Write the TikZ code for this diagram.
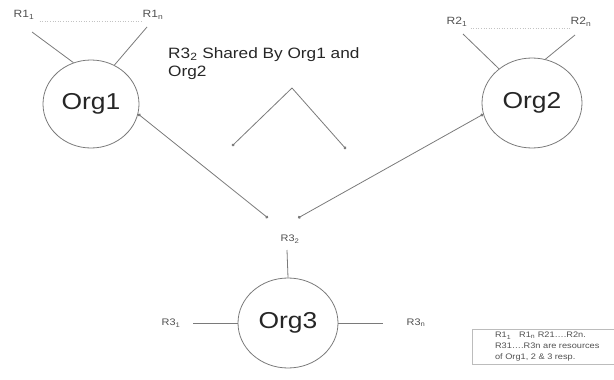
\documentclass[tikz,border=0pt]{standalone}
\usepackage{fontspec}
\setmainfont[FakeStretch=1.15]{Liberation Sans}
\usetikzlibrary{arrows.meta,shapes.geometric}
\definecolor{ln}{HTML}{7A7A7A}
\definecolor{txt}{HTML}{262626}
\definecolor{lbl}{HTML}{505050}
\begin{document}
\begin{tikzpicture}[x=1pt,y=-1pt,
  org/.style={ellipse,draw=ln,line width=0.8pt,inner sep=0pt,text=txt,font=\fontsize{23}{26}\selectfont},
  res/.style={inner sep=1pt,text=lbl,font=\fontsize{10.5}{12}\selectfont},
  con/.style={draw=ln,line width=0.8pt},
  dotl/.style={draw=ln!45,line width=0.6pt,dotted},
  dots/.style={con,{Circle[length=3pt]}-{Circle[length=3pt]}},
  dote/.style={con,-{Circle[length=3pt]}}]
\useasboundingbox (0,0) rectangle (614,380);
% organisations
\node[org,minimum width=96pt,minimum height=88pt] (org1) at (91,104) {Org1};
\node[org,minimum width=100pt,minimum height=90pt] (org2) at (532,103) {Org2};
\node[org,minimum width=100pt,minimum height=90pt] (org3) at (288,323) {Org3};
% resource labels
\node[res] (r11) at (24,15) {R1\textsubscript{1}};
\node[res] (r1n) at (153,15) {R1\textsubscript{n}};
\node[res] (r21) at (457,22) {R2\textsubscript{1}};
\node[res] (r2n) at (581,22) {R2\textsubscript{n}};
\node[res,font=\fontsize{9.5}{11}\selectfont] (r32) at (290,239) {R3\textsubscript{2}};
\node[res,font=\fontsize{9.5}{11}\selectfont] (r31) at (171,323) {R3\textsubscript{1}};
\node[res,font=\fontsize{9.5}{11}\selectfont] (r3n) at (416,323) {R3\textsubscript{n}};
% dotted ranges
\draw[dotl] (r11.east) ++(4,6) coordinate (d1a) -- (d1a -| r1n.west);
\draw[dotl] (r21.east) ++(2,6) coordinate (d2a) -- (d2a -| r2n.west);
% free ends
\coordinate (a11) at (32,32);
\coordinate (a1n) at (147,27);
\coordinate (a21) at (463,34);
\coordinate (a2n) at (575,35);
\coordinate (a32) at (287,250);
\coordinate (a31) at (193,323);
\coordinate (a3n) at (383,323);
\coordinate (t1) at (268,218);
\coordinate (t2) at (298,218);
\draw[con] (a11) -- (org1.113);
\draw[con] (a1n) -- (org1.59);
\draw[con] (a21) -- (org2.134);
\draw[con] (a2n) -- (org2.73);
\draw[con] (a32) -- (org3.north);
\draw[con] (a31) -- (org3.west);
\draw[con] (org3.east) -- (a3n);
% shared links
\draw[dots] (org1.-12) -- (t1);
\draw[dots] (org2.193) -- (t2);
% caption and chevron
\node[anchor=north west,align=left,inner sep=0pt,text=txt,font=\fontsize{15}{18}\selectfont] (cap) at (168,47) {R3\textsubscript{2} Shared By Org1 and\\Org2};
\coordinate (apex) at (292,88);
\coordinate (c1) at (232,146);
\coordinate (c2) at (346,149);
\draw[dote] (apex) -- (c1);
\draw[dote] (apex) -- (c2);
% legend
\node[draw=ln!50,line width=0.5pt,anchor=north west,align=left,inner xsep=4pt,inner ysep=3pt,text=lbl,font=\fontsize{8}{11}\selectfont,minimum width=150pt] (leg) at (472,329) {R1\textsubscript{1}\quad R1\textsubscript{n} R21….R2n.\\R31….R3n are resources\\of Org1, 2 \& 3 resp.};
\end{tikzpicture}
\end{document}
